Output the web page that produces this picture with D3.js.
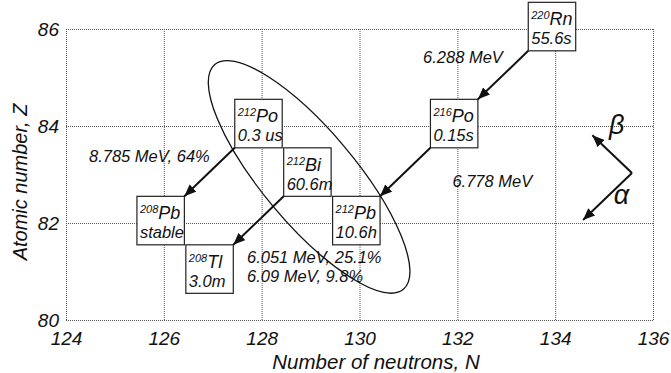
<!DOCTYPE html>
<html>
<head>
<meta charset="utf-8">
<script src="https://cdn.jsdelivr.net/npm/d3@7"></script>
<style>
  body { margin: 0; background: #fff; }
  svg text { font-family: "Liberation Sans", Arial, sans-serif; font-style: italic; fill: #111; }
</style>
</head>
<body>
<svg width="671" height="373"></svg>
<script>
// nuclides: mass number, symbol, neutrons N, protons Z, half-life
const massNumbers = [220, 216, 212, 212, 212, 208, 208];
const symbols = ["Rn", "Po", "Po", "Bi", "Pb", "Pb", "Tl"];
const neutrons = [134, 132, 128, 129, 130, 126, 127];
const protons = [86, 84, 84, 83, 82, 82, 81];
const halfLives = ["55.6s", "0.15s", "0.3 us", "60.6m", "10.6h", "stable", "3.0m"];

// alpha decays (index of parent -> index of daughter)
const decayFrom = [0, 1, 2, 3];
const decayTo = [1, 4, 5, 6];

// energy labels [text, N, Z]
const energyText = ["6.288 MeV", "6.778 MeV", "8.785 MeV, 64%", "6.051 MeV, 25.1%", "6.09 MeV, 9.8%"];
const energyN = [131.3, 131.9, 124.47, 127.7, 127.7];
const energyZ = [85.3, 82.74, 83.26, 81.18, 80.78];

// axis ticks
const xTicks = [124, 126, 128, 130, 132, 134, 136];
const yTicks = [80, 82, 84, 86];

// ellipse round the thorium C branch: centre, semi-axes (N units), angle
const ellipseC = [128.97, 82.95];
const ellipseR = [3.0, 0.95];
const ellipseAngle = 50;

// legend arrows
const legendOrigin = [135.57, 83.03];
const legendBeta = [134.76, 83.81];
const legendAlpha = [134.57, 82.06];

const svg = d3.select("svg");

const x = d3.scaleLinear().domain([124, 136]).range([66, 653]);
const y = d3.scaleLinear().domain([80, 86]).range([320, 29]);

// marker
svg.append("defs").append("marker")
    .attr("id", "head")
    .attr("viewBox", "0 0 12 10")
    .attr("refX", 12)
    .attr("refY", 5)
    .attr("markerWidth", 12)
    .attr("markerHeight", 10)
    .attr("markerUnits", "userSpaceOnUse")
    .attr("orient", "auto")
  .append("path")
    .attr("d", "M0,0 L12,5 L0,10 Z")
    .attr("fill", "#111");

// grid
const grid = svg.append("g")
    .attr("stroke", "#555")
    .attr("stroke-width", 1)
    .attr("stroke-dasharray", "1,1")
    .attr("fill", "none");

grid.selectAll(".vx").data(xTicks).join("line")
    .attr("x1", d => x(d) + 0.5).attr("x2", d => x(d) + 0.5)
    .attr("y1", y(86)).attr("y2", y(80));
grid.selectAll(".hy").data(yTicks).join("line")
    .attr("y1", d => y(d) + 0.5).attr("y2", d => y(d) + 0.5)
    .attr("x1", x(124)).attr("x2", x(136));

// axes (labels only)
const xAxis = d3.axisBottom(x).tickValues(xTicks).tickSize(0).tickPadding(12).tickFormat(d3.format("d"));
const yAxis = d3.axisLeft(y).tickValues(yTicks).tickSize(0).tickPadding(7).tickFormat(d3.format("d"));

svg.append("g")
    .attr("transform", `translate(0, ${y(80)})`)
    .call(xAxis)
    .call(g => g.select(".domain").remove())
    .selectAll("text")
    .attr("font-size", 19)
    .attr("font-family", null)
    .attr("fill", "#111");

svg.append("g")
    .attr("transform", `translate(${x(124)}, 0)`)
    .call(yAxis)
    .call(g => g.select(".domain").remove())
    .selectAll("text")
    .attr("font-size", 19)
    .attr("font-family", null)
    .attr("fill", "#111");

svg.append("text")
    .attr("x", 376)
    .attr("y", 369)
    .attr("text-anchor", "middle")
    .attr("font-size", 20.5)
    .text("Number of neutrons, N");

svg.append("text")
    .attr("transform", `translate(27, 182) rotate(-90)`)
    .attr("text-anchor", "middle")
    .attr("font-size", 20)
    .text("Atomic number, Z");

// ellipse
svg.append("ellipse")
    .attr("cx", 0).attr("cy", 0)
    .attr("rx", x(124 + ellipseR[0]) - x(124))
    .attr("ry", x(124 + ellipseR[1]) - x(124))
    .attr("transform", `translate(${x(ellipseC[0])}, ${y(ellipseC[1])}) rotate(${ellipseAngle})`)
    .attr("fill", "none")
    .attr("stroke", "#111")
    .attr("stroke-width", 1.3);

// nuclide boxes
const nuclides = massNumbers.map((a, i) => ({
    a, sym: symbols[i], n: neutrons[i], z: protons[i], t: halfLives[i]
}));

const boxL = d => x(d.n - 0.55);
const boxR = d => x(d.n + 0.42);
const boxT = d => y(d.z + 0.55);
const boxB = d => y(d.z - 0.45);

const box = svg.selectAll(".nuc").data(nuclides).join("g").attr("class", "nuc");

box.append("rect")
    .attr("x", boxL)
    .attr("y", boxT)
    .attr("width", d => boxR(d) - boxL(d))
    .attr("height", d => boxB(d) - boxT(d))
    .attr("fill", "#fff")
    .attr("stroke", "#222")
    .attr("stroke-width", 1.2);

const name = box.append("text")
    .attr("x", d => boxL(d) + 3)
    .attr("y", d => boxT(d) + 23)
    .attr("font-size", 18);
name.append("tspan")
    .attr("font-size", 11)
    .attr("dy", -6)
    .text(d => d.a);
name.append("tspan")
    .attr("dy", 6)
    .text(d => d.sym);

box.append("text")
    .attr("x", d => boxL(d) + 3)
    .attr("y", d => boxT(d) + 42)
    .attr("font-size", 16.5)
    .text(d => d.t);

// alpha decay arrows: parent bottom-left -> daughter top-right
svg.selectAll(".decay").data(decayFrom).join("line")
    .attr("x1", d => boxL(nuclides[d]))
    .attr("y1", d => boxB(nuclides[d]))
    .attr("x2", (d, i) => boxR(nuclides[decayTo[i]]))
    .attr("y2", (d, i) => boxT(nuclides[decayTo[i]]))
    .attr("stroke", "#111")
    .attr("stroke-width", 2)
    .attr("marker-end", "url(#head)");

// energies
svg.selectAll(".energy").data(energyText).join("text")
    .attr("x", (d, i) => x(energyN[i]))
    .attr("y", (d, i) => y(energyZ[i]))
    .attr("font-size", 16.5)
    .text(d => d);

// legend
[legendBeta, legendAlpha].forEach(p => {
    svg.append("line")
        .attr("x1", x(legendOrigin[0])).attr("y1", y(legendOrigin[1]))
        .attr("x2", x(p[0])).attr("y2", y(p[1]))
        .attr("stroke", "#111")
        .attr("stroke-width", 2)
        .attr("marker-end", "url(#head)");
});

svg.append("text")
    .attr("x", x(135.1)).attr("y", y(83.83))
    .attr("font-family", "Liberation Serif, serif")
    .attr("font-size", 27)
    .text("β");
svg.append("text")
    .attr("x", x(135.2)).attr("y", y(82.4))
    .attr("font-family", "Liberation Serif, serif")
    .attr("font-size", 27)
    .text("α");
</script>
</body>
</html>
